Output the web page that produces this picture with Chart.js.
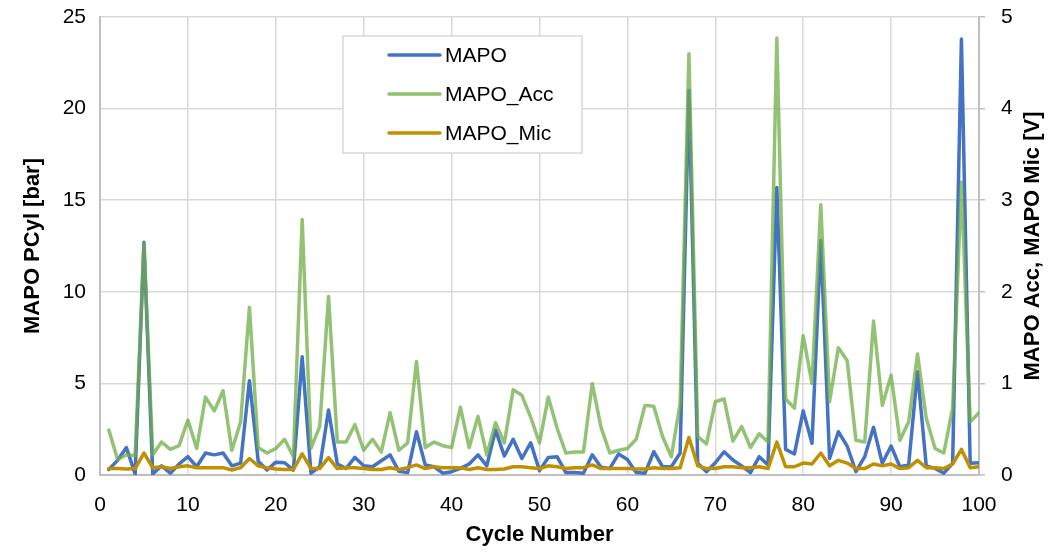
<!DOCTYPE html>
<html>
<head>
<meta charset="utf-8">
<script src="https://cdn.jsdelivr.net/npm/chart.js@4/dist/chart.umd.min.js"></script>
<style>
  body { margin: 0; background: #fff; }
  #wrap { width: 1051px; height: 552px; }
</style>
</head>
<body>
<div id="wrap"><canvas id="mapoChart" width="1051" height="552"></canvas></div>
<script>
const cycles = [1, 2, 3, 4, 5, 6, 7, 8, 9, 10, 11, 12, 13, 14, 15, 16, 17, 18, 19, 20,
  21, 22, 23, 24, 25, 26, 27, 28, 29, 30, 31, 32, 33, 34, 35, 36, 37, 38, 39, 40,
  41, 42, 43, 44, 45, 46, 47, 48, 49, 50, 51, 52, 53, 54, 55, 56, 57, 58, 59, 60,
  61, 62, 63, 64, 65, 66, 67, 68, 69, 70, 71, 72, 73, 74, 75, 76, 77, 78, 79, 80,
  81, 82, 83, 84, 85, 86, 87, 88, 89, 90, 91, 92, 93, 94, 95, 96, 97, 98, 99, 100];

// MAPO from cylinder pressure [bar]
const mapo = [0.3, 0.8, 1.5, 0.05, 12.7, 0.05, 0.5, 0.1, 0.6, 1.0,
  0.45, 1.2, 1.1, 1.2, 0.5, 0.65, 5.15, 0.75, 0.27, 0.7,
  0.67, 0.27, 6.45, 0.1, 0.45, 3.55, 0.6, 0.36, 0.96, 0.5,
  0.45, 0.78, 1.1, 0.2, 0.13, 2.36, 0.55, 0.45, 0.1, 0.18,
  0.36, 0.6, 1.1, 0.5, 2.45, 1.04, 1.95, 0.9, 1.76, 0.24,
  0.96, 1.0, 0.13, 0.13, 0.1, 1.1, 0.42, 0.36, 1.15, 0.85,
  0.13, 0.1, 1.27, 0.45, 0.45, 1.2, 21.0, 0.64, 0.18, 0.67,
  1.27, 0.82, 0.5, 0.13, 1.0, 0.55, 15.7, 1.4, 1.15, 3.5,
  1.73, 12.8, 0.9, 2.36, 1.58, 0.18, 1.0, 2.6, 0.64, 1.58,
  0.45, 0.55, 5.64, 0.5, 0.36, 0.1, 0.64, 23.8, 0.64, 0.67];

// MAPO from accelerometer [V]
const mapoAcc = [0.49, 0.17, 0.22, 0.21, 2.53, 0.22, 0.36, 0.28, 0.32, 0.6,
  0.29, 0.85, 0.70, 0.92, 0.27, 0.58, 1.83, 0.30, 0.24, 0.29,
  0.39, 0.2, 2.79, 0.29, 0.53, 1.95, 0.36, 0.36, 0.55, 0.27,
  0.39, 0.25, 0.68, 0.27, 0.35, 1.24, 0.30, 0.36, 0.32, 0.30,
  0.74, 0.30, 0.64, 0.22, 0.57, 0.35, 0.93, 0.87, 0.63, 0.35,
  0.85, 0.51, 0.24, 0.25, 0.25, 1.0, 0.52, 0.24, 0.27, 0.29,
  0.39, 0.76, 0.75, 0.42, 0.2, 0.78, 4.6, 0.42, 0.34, 0.8,
  0.83, 0.37, 0.53, 0.30, 0.45, 0.36, 4.77, 0.83, 0.73, 1.52,
  1.0, 2.95, 0.8, 1.39, 1.25, 0.38, 0.36, 1.68, 0.76, 1.09,
  0.38, 0.58, 1.32, 0.62, 0.29, 0.24, 0.73, 3.2, 0.58, 0.68];

// MAPO from microphone [V]
const mapoMic = [0.07, 0.07, 0.065, 0.07, 0.24, 0.08, 0.09, 0.07, 0.09, 0.1,
  0.08, 0.08, 0.08, 0.08, 0.055, 0.08, 0.18, 0.1, 0.08, 0.065,
  0.06, 0.06, 0.23, 0.07, 0.07, 0.19, 0.07, 0.08, 0.08, 0.07,
  0.06, 0.06, 0.08, 0.06, 0.08, 0.11, 0.07, 0.09, 0.08, 0.08,
  0.08, 0.06, 0.08, 0.06, 0.06, 0.065, 0.09, 0.09, 0.08, 0.07,
  0.1, 0.09, 0.07, 0.08, 0.08, 0.11, 0.07, 0.07, 0.07, 0.07,
  0.065, 0.065, 0.08, 0.07, 0.07, 0.08, 0.41, 0.1, 0.07, 0.07,
  0.09, 0.09, 0.08, 0.08, 0.09, 0.07, 0.36, 0.09, 0.09, 0.13,
  0.12, 0.24, 0.1, 0.16, 0.13, 0.07, 0.07, 0.12, 0.1, 0.12,
  0.07, 0.08, 0.16, 0.08, 0.08, 0.07, 0.12, 0.28, 0.08, 0.09];

const FONT = '"Liberation Sans", Arial, sans-serif';

function points(values) {
  return cycles.map((c, i) => ({ x: c, y: values[i] }));
}

// axis titles + boxed legend, drawn like the Excel original
const decor = {
  id: "decor",
  afterDraw(chart) {
    const c = chart.ctx;
    const area = chart.chartArea;
    const midY = (area.top + area.bottom) / 2;
    c.save();
    c.fillStyle = "#000";
    c.font = "bold 22px " + FONT;
    c.textAlign = "center";
    c.textBaseline = "middle";
    c.fillText("Cycle Number", (area.left + area.right) / 2, 535);
    c.translate(33, midY);
    c.rotate(-Math.PI / 2);
    c.fillText("MAPO PCyl [bar]", 0, 0);
    c.restore();

    c.save();
    c.fillStyle = "#000";
    c.font = "bold 22px " + FONT;
    c.textAlign = "center";
    c.textBaseline = "middle";
    c.translate(1033, midY);
    c.rotate(-Math.PI / 2);
    c.fillText("MAPO Acc, MAPO Mic [V]", 0, 0);
    c.restore();

    // legend
    c.save();
    c.fillStyle = "#fff";
    c.strokeStyle = "#d9d9d9";
    c.lineWidth = 1.5;
    c.fillRect(343, 36, 239, 117);
    c.strokeRect(343, 36, 239, 117);
    const rows = [55, 94, 133];
    chart.data.datasets.forEach((ds, i) => {
      const y = rows[i];
      c.strokeStyle = ds.legendColor;
      c.lineWidth = 3.5;
      c.lineCap = "round";
      c.beginPath();
      c.moveTo(389, y);
      c.lineTo(440, y);
      c.stroke();
      c.fillStyle = "#000";
      c.font = "21px " + FONT;
      c.textAlign = "left";
      c.textBaseline = "middle";
      c.fillText(ds.label, 445, y + 1);
    });
    c.restore();
  }
};

function fitVertical(width) {
  return function (scale) {
    scale.width = width;
    scale.paddingTop = 0;
    scale.paddingBottom = 0;
  };
}

const ctx = document.getElementById("mapoChart");

new Chart(ctx, {
  type: "line",
  data: {
    datasets: [
      {
        label: "MAPO",
        data: points(mapo),
        yAxisID: "y",
        borderColor: "#4472c4",
        legendColor: "#4472c4",
        borderWidth: 3.5,
        order: 3,
      },
      {
        label: "MAPO_Acc",
        data: points(mapoAcc),
        yAxisID: "y1",
        borderColor: "rgba(112, 173, 71, 0.75)",
        legendColor: "#8ec16c",
        borderWidth: 3.5,
        order: 2,
      },
      {
        label: "MAPO_Mic",
        data: points(mapoMic),
        yAxisID: "y1",
        borderColor: "#bf9000",
        legendColor: "#bf9000",
        borderWidth: 3.5,
        order: 1,
      },
    ],
  },
  options: {
    responsive: false,
    animation: false,
    layout: { padding: { top: 17, left: 0, right: 0, bottom: 0 } },
    elements: {
      point: { radius: 0 },
      line: { tension: 0, borderJoinStyle: "round", borderCapStyle: "round" },
    },
    plugins: {
      legend: { display: false },
      tooltip: { enabled: false },
    },
    scales: {
      x: {
        type: "linear",
        min: 0,
        max: 100,
        ticks: { stepSize: 10, padding: 18, color: "#000", font: { family: FONT, size: 21 } },
        grid: { color: "#d9d9d9", lineWidth: 1.5, drawTicks: false },
        border: { color: "#bfbfbf", width: 2 },
        afterFit(scale) { scale.height = 77; },
      },
      y: {
        position: "left",
        min: 0,
        max: 25,
        ticks: { stepSize: 5, padding: 14, color: "#000", font: { family: FONT, size: 21 } },
        grid: { color: "#d9d9d9", lineWidth: 1.5, drawTicks: false },
        border: { color: "#bfbfbf", width: 2 },
        afterFit: fitVertical(100),
      },
      y1: {
        position: "right",
        min: 0,
        max: 5,
        ticks: { stepSize: 1, padding: 16, color: "#000", font: { family: FONT, size: 21 } },
        grid: { drawOnChartArea: false, color: "#bfbfbf", lineWidth: 1.5, tickLength: 6 },
        border: { color: "#bfbfbf", width: 2 },
        afterFit: fitVertical(72),
      },
    },
  },
  plugins: [decor],
});
</script>
</body>
</html>
